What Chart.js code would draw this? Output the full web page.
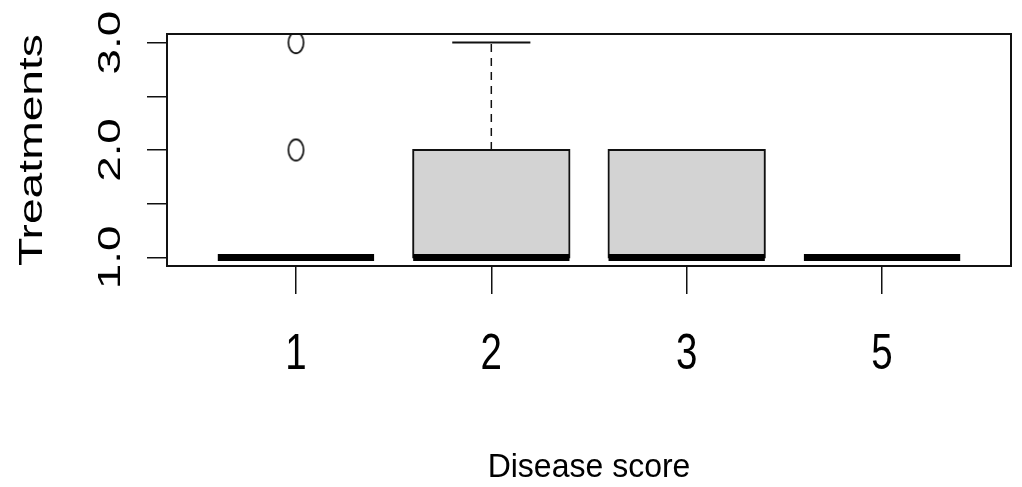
<!DOCTYPE html>
<html>
<head>
<meta charset="utf-8">
<title>Treatments by disease score</title>
<script src="https://cdn.jsdelivr.net/npm/chart.js@4.4.1/dist/chart.umd.min.js"></script>
<style>
  html, body { margin: 0; padding: 0; background: #ffffff; }
  #wrap { width: 1022px; height: 487px; position: relative; }
</style>
</head>
<body>
<div id="wrap"><canvas id="chart"></canvas></div>
<script>
// Box-plot summary of treatments for each disease score
const categories  = ['1', '2', '3', '5'];
const whiskerLow  = [1, 1, 1, 1];
const quartile1   = [1, 1, 1, 1];
const medians     = [1, 1, 1, 1];
const quartile3   = [1, 2, 2, 1];
const whiskerHigh = [1, 3, 2, 1];
const outliers    = [[2, 3], [], [], []];

const yTickValues = [1, 1.5, 2, 2.5, 3];
const yTickLabels = ['1.0', '', '2.0', '', '3.0'];

const xTitle = 'Disease score';
const yTitle = 'Treatments';

// box and staple widths, in category units
const BOX_WIDTH = 0.8;
const STAPLE_WIDTH = 0.4;
const INK = '#111111';
const FONT = '"Liberation Sans", Arial, Helvetica, sans-serif';

// half-width in pixels of a horizontal mark spanning w category units
function halfWidthPx(chart, w) {
  const s = chart.scales.x;
  if (!s) return 0;
  return Math.abs(s.getPixelForValue(1 + w / 2) - s.getPixelForValue(1));
}

// hollow ellipse used for the outlier points
function ellipseMarker() {
  const c = document.createElement('canvas');
  c.width = 21; c.height = 27;
  const g = c.getContext('2d');
  g.strokeStyle = '#000000';
  g.lineWidth = 1.6;
  g.beginPath();
  g.ellipse(10.5, 13.5, 7.6, 10.6, 0, 0, Math.PI * 2);
  g.stroke();
  return c;
}

const boxData = categories.map((c, i) => ({ x: i + 1, y: [quartile1[i], quartile3[i]] }));
const medianData = categories.map((c, i) => ({ x: i + 1, y: medians[i] }));
const stapleData = [];
const whiskerData = [];
categories.forEach((c, i) => {
  stapleData.push({ x: i + 1, y: whiskerHigh[i] }, { x: i + 1, y: whiskerLow[i] });
  whiskerData.push({ x: i + 1, y: quartile3[i] }, { x: i + 1, y: whiskerHigh[i] }, { x: i + 1, y: null });
  whiskerData.push({ x: i + 1, y: quartile1[i] }, { x: i + 1, y: whiskerLow[i] }, { x: i + 1, y: null });
});
const outlierData = [];
outliers.forEach((vals, i) => vals.forEach(v => outlierData.push({ x: i + 1, y: v })));

// text drawn with a separate horizontal / vertical scale
function drawText(ctx, text, x, y, rot, sx, sy, size, align) {
  ctx.save();
  ctx.translate(x, y);
  ctx.rotate(rot);
  ctx.scale(sx, sy);
  ctx.font = size + 'px ' + FONT;
  ctx.fillStyle = '#000000';
  ctx.textAlign = align || 'center';
  ctx.textBaseline = 'alphabetic';
  ctx.fillText(text, 0, 0);
  ctx.restore();
}

const framePlugin = {
  id: 'frame',
  afterDatasetsDraw(chart) {
    const { ctx, chartArea: a } = chart;
    ctx.save();
    ctx.strokeStyle = INK;
    ctx.lineWidth = 2;
    ctx.strokeRect(a.left, a.top, a.right - a.left, a.bottom - a.top);
    ctx.restore();
  }
};

const axisTextPlugin = {
  id: 'axisText',
  afterDraw(chart) {
    const { ctx, chartArea: a, scales } = chart;
    // y tick labels, rotated
    yTickValues.forEach((v, i) => {
      if (!yTickLabels[i]) return;
      drawText(ctx, yTickLabels[i], a.left - 47, scales.y.getPixelForValue(v), -Math.PI / 2, 1.43, 1, 32);
    });
    // y title
    drawText(ctx, yTitle, a.left - 125, (a.top + a.bottom) / 2, -Math.PI / 2, 1.40, 1, 33);
    // x tick labels
    categories.forEach((c, i) => {
      drawText(ctx, c, scales.x.getPixelForValue(i + 1), a.bottom + 103, 0, 1, 1.32, 38.5);
    });
    // x title
    drawText(ctx, xTitle, (a.left + a.right) / 2, a.bottom + 211, 0, 1, 1.05, 32);
  }
};

new Chart(document.getElementById('chart'), {
  type: 'bar',
  data: {
    datasets: [
      {
        type: 'scatter',
        label: 'median',
        data: medianData,
        order: 0,
        pointStyle: 'line',
        pointRadius: (c) => halfWidthPx(c.chart, BOX_WIDTH),
        pointBorderWidth: 7,
        pointBorderColor: '#000000',
        pointBackgroundColor: '#000000'
      },
      {
        type: 'scatter',
        label: 'outliers',
        data: outlierData,
        order: 1,
        pointStyle: ellipseMarker(),
        pointRadius: 10
      },
      {
        type: 'scatter',
        label: 'staples',
        data: stapleData,
        order: 2,
        pointStyle: 'line',
        pointRadius: (c) => halfWidthPx(c.chart, STAPLE_WIDTH),
        pointBorderWidth: 2,
        pointBorderColor: INK
      },
      {
        type: 'line',
        label: 'whiskers',
        data: whiskerData,
        order: 3,
        spanGaps: false,
        borderColor: INK,
        borderWidth: 1.5,
        borderDash: [8, 6],
        pointRadius: 0,
        fill: false
      },
      {
        type: 'bar',
        label: 'box',
        data: boxData,
        order: 4,
        backgroundColor: '#d3d3d3',
        borderColor: INK,
        borderWidth: 2,
        borderSkipped: false,
        inflateAmount: 1,
        barPercentage: BOX_WIDTH,
        categoryPercentage: 1,
        grouped: false
      }
    ]
  },
  options: {
    responsive: true,
    maintainAspectRatio: false,
    animation: false,
    events: [],
    layout: { padding: { top: 34, right: 9, left: 0, bottom: 0 } },
    plugins: { legend: { display: false }, tooltip: { enabled: false } },
    scales: {
      x: {
        type: 'linear',
        min: 0.34,
        max: 4.66,
        offset: false,
        afterBuildTicks: (s) => { s.ticks = categories.map((c, i) => ({ value: i + 1 })); },
        afterFit: (s) => { s.height = 221; },
        ticks: { display: false },
        border: { display: false },
        grid: { offset: false, drawOnChartArea: false, drawTicks: true, tickLength: 28, color: INK, lineWidth: 1.5 }
      },
      y: {
        type: 'linear',
        min: 0.92,
        max: 3.08,
        afterBuildTicks: (s) => { s.ticks = yTickValues.map(v => ({ value: v })); },
        afterFit: (s) => { s.width = 167; },
        ticks: { display: false },
        border: { display: false },
        grid: { drawOnChartArea: false, drawTicks: true, tickLength: 20, color: INK, lineWidth: 1.5 }
      }
    }
  },
  plugins: [framePlugin, axisTextPlugin]
});
</script>
</body>
</html>
